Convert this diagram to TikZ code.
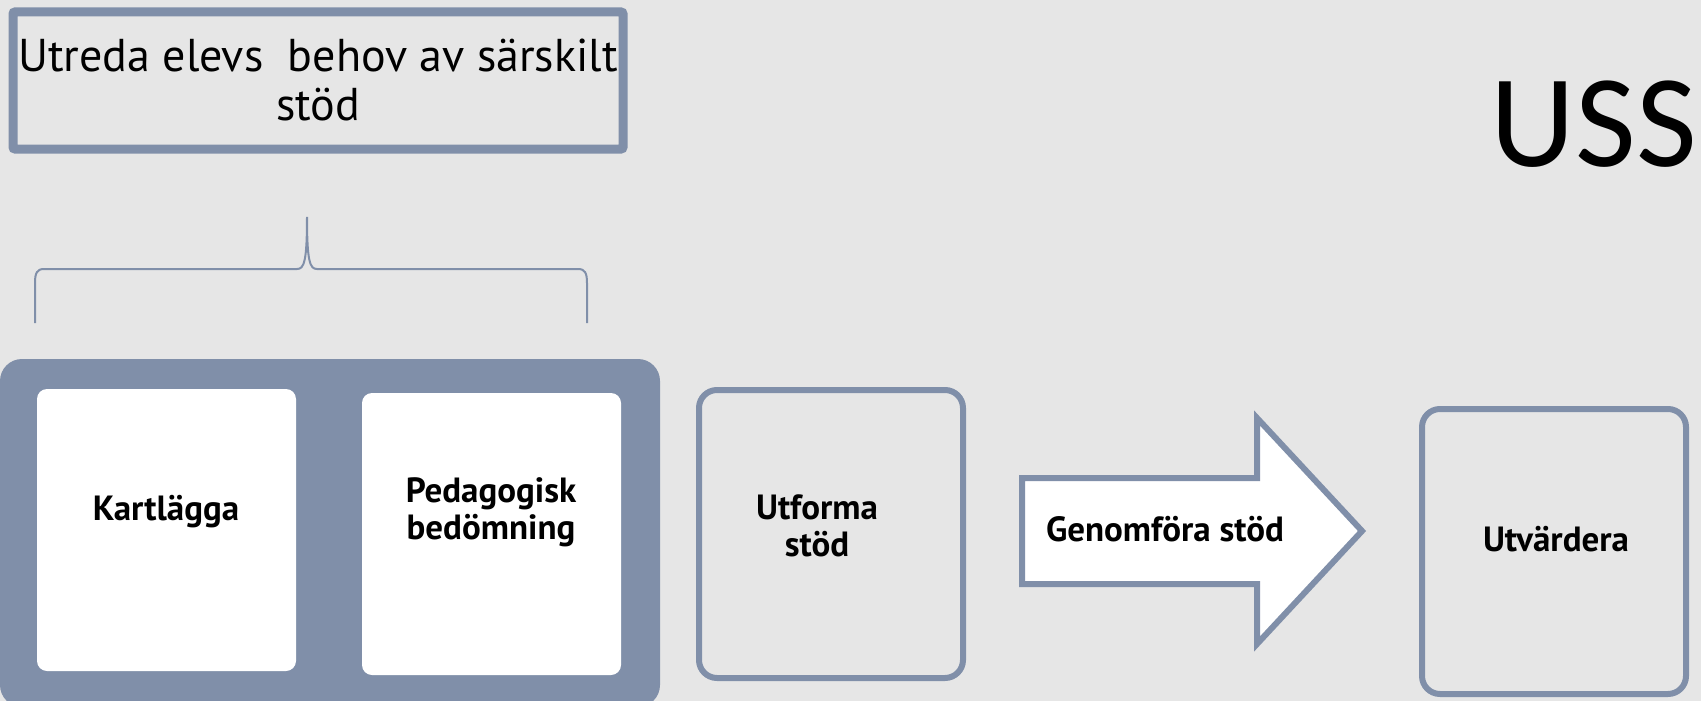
\documentclass[tikz,border=0pt]{standalone}
\usepackage{fontspec}
\setmainfont{PT Sans}
\newfontfamily\ussfont{Carlito}
\definecolor{slidebg}{RGB}{230,230,230}
\definecolor{ussblue}{RGB}{128,143,169}
\newcommand\pxunit{1pt}

\begin{document}
\begin{tikzpicture}[
x=\pxunit,y=-\pxunit,
steptext/.style={font=\fontsize{35}{37}\selectfont\bfseries,align=center,anchor=base,inner sep=0pt},
stepframe/.style={draw=ussblue,line width=6pt,rounded corners=18pt}
]
\useasboundingbox (0,0) rectangle (1701,701);
\fill[slidebg] (0,0) rectangle (1701,701);

% rubrik
\draw[ussblue,line width=9pt,rounded corners=2pt] (13,12) rectangle (623,149);
\node[font=\fontsize{46}{50}\selectfont,align=center,anchor=base,inner sep=0pt] (utreda) at (318,121) {Utreda elevs~ behov av särskilt\\stöd};
\node[font=\fontsize{132}{132}\ussfont,anchor=base east,inner sep=0pt] (uss) at (1697,166) {USS};

% klammer
\draw[ussblue,line width=2pt] (35,323) -- (35,283) .. controls (35,273) and (37,269) .. (44,269) -- (297,269) .. controls (304,269) and (307,262) .. (307,217) .. controls (307,262) and (310,269) .. (317,269) -- (578,269) .. controls (585,269) and (587,273) .. (587,283) -- (587,323);

% utredning
\fill[ussblue,rounded corners=22pt] (0,359) rectangle (660,707);
\fill[white,rounded corners=10pt] (37,389) rectangle (296,671);
\fill[white,rounded corners=10pt] (362,393) rectangle (621,675);
\node[steptext] (kartlagga) at (166,520) {Kartlägga};
\node[steptext] (pedagogisk) at (491,539) {Pedagogisk\\bedömning};

\draw[stepframe] (699,390) rectangle (963,678);
\node[steptext] (utforma) at (817,556) {Utforma\\stöd};

\filldraw[fill=white,draw=ussblue,line width=6pt] (1022,478) -- (1257,478) -- (1257,418) -- (1362,531) -- (1257,644) -- (1257,584) -- (1022,584) -- cycle;
\node[steptext] (genomfora) at (1165,541) {Genomföra stöd};

\draw[stepframe] (1422,409) rectangle (1686,694);
\node[steptext] (utvardera) at (1556,551) {Utvärdera};

\end{tikzpicture}
\end{document}
